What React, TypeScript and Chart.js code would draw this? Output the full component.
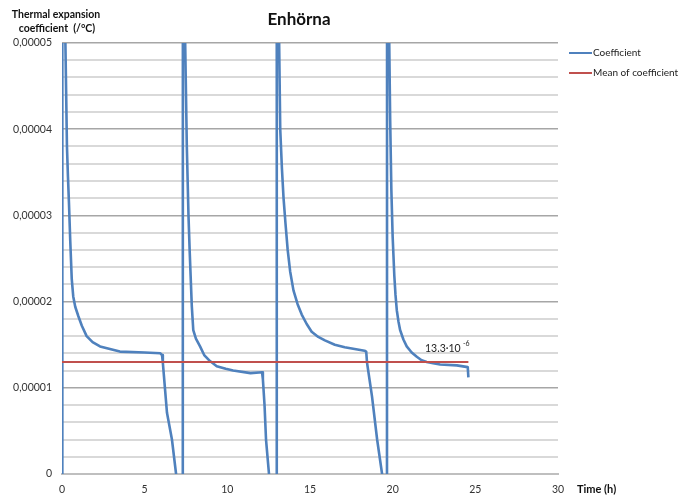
import React, { useEffect, useRef } from "react";
import Chart from "chart.js/auto";

// Time (h) and thermal expansion coefficient (/°C)
const cycle1Time = [0, 0.02, 0.19, 0.3, 0.36, 0.42, 0.5, 0.59, 0.68, 0.8, 0.99, 1.2, 1.49, 1.85, 2.3, 2.9, 3.5, 5.0, 5.95, 6.05, 6.1, 6.35, 6.65, 6.9, 7.0];
const cycle1Coef = [-2e-5, 2e-4, 5.2e-5, 3.8e-5, 3.45e-5, 3.15e-5, 2.7e-5, 2.26e-5, 2.06e-5, 1.94e-5, 1.83e-5, 1.72e-5, 1.6e-5, 1.53e-5, 1.48e-5, 1.45e-5, 1.42e-5, 1.41e-5, 1.40e-5, 1.38e-5, 1.29e-5, 0.71e-5, 0.40e-5, 0, -1e-5];

const cycle2Time = [7.3, 7.32, 7.45, 7.55, 7.65, 7.72, 7.78, 7.85, 7.94, 8.1, 8.35, 8.6, 8.95, 9.36, 9.9, 10.35, 11.4, 12.1, 12.15, 12.25, 12.34, 12.52, 12.6];
const cycle2Coef = [-1e-4, 2e-4, 5.0e-5, 3.8e-5, 3.0e-5, 2.6e-5, 2.3e-5, 1.95e-5, 1.67e-5, 1.57e-5, 1.48e-5, 1.38e-5, 1.31e-5, 1.25e-5, 1.22e-5, 1.20e-5, 1.17e-5, 1.18e-5, 1.10e-5, 0.80e-5, 0.40e-5, 0, -1e-5];

const cycle3Time = [12.97, 12.99, 13.1, 13.2, 13.3, 13.4, 13.52, 13.65, 13.8, 14.0, 14.25, 14.5, 14.8, 15.1, 15.5, 15.9, 16.5, 17.1, 17.7, 18.3, 18.4, 18.45, 18.75, 19.06, 19.36, 19.45];
const cycle3Coef = [-1e-4, 2e-4, 5.5e-5, 4.0e-5, 3.55e-5, 3.2e-5, 2.9e-5, 2.6e-5, 2.35e-5, 2.13e-5, 1.97e-5, 1.85e-5, 1.74e-5, 1.65e-5, 1.59e-5, 1.55e-5, 1.5e-5, 1.47e-5, 1.45e-5, 1.43e-5, 1.42e-5, 1.29e-5, 0.90e-5, 0.40e-5, 0, -1e-5];

const cycle4Time = [19.65, 19.67, 19.78, 19.85, 19.92, 20.0, 20.1, 20.17, 20.25, 20.35, 20.45, 20.65, 20.85, 21.15, 21.46, 21.75, 22.06, 22.45, 22.87, 23.88, 24.54, 24.58];
const cycle4Coef = [-1e-4, 2e-4, 5.2e-5, 4.1e-5, 3.3e-5, 2.75e-5, 2.3e-5, 2.08e-5, 1.9e-5, 1.77e-5, 1.67e-5, 1.56e-5, 1.48e-5, 1.41e-5, 1.36e-5, 1.32e-5, 1.30e-5, 1.285e-5, 1.27e-5, 1.26e-5, 1.24e-5, 1.12e-5];

const meanValue = 1.3e-5;
const meanTime = [0, 24.58];

const seriesLabels = ["Coefficient", "Mean of coefficient"];
const xTicks = [0, 5, 10, 15, 20, 25, 30];
const chartTitle = "Enhörna";
const yTitle = ["Thermal expansion", "coefficient  (/°C)"];
const xTitle = "Time (h)";
const annotationText = "13.3·10";
const annotationExp = "-6";

const BLUE = "#4F81BD";
const RED = "#C0504D";
const FONT = "Lato, 'Open Sans', sans-serif";

const isMajor = (v: number) => {
  const s = v * 1e5;
  return Math.abs(s - Math.round(s)) < 1e-6;
};

export default function App() {
  const ref = useRef<HTMLCanvasElement | null>(null);

  useEffect(() => {
    if (!ref.current) return;
    const times = [...cycle1Time, ...cycle2Time, ...cycle3Time, ...cycle4Time];
    const coefs = [...cycle1Coef, ...cycle2Coef, ...cycle3Coef, ...cycle4Coef];
    const coefData = times.map((t, i) => ({ x: t, y: coefs[i] }));
    const meanData = meanTime.map((t) => ({ x: t, y: meanValue }));

    const textPlugin = {
      id: "texts",
      afterDraw(chart: any) {
        const c = chart.ctx;
        c.save();
        c.fillStyle = "#111";
        c.textBaseline = "middle";
        c.font = `bold 17px ${FONT}`;
        c.textAlign = "center";
        c.fillText(chartTitle, 299, 20);
        c.font = `bold 10.5px ${FONT}`;
        c.fillText(yTitle[0], 56, 15);
        c.fillText(yTitle[1], 57, 29);
        c.textAlign = "left";
        c.font = `bold 11px ${FONT}`;
        c.fillText(xTitle, 577, 489);
        const colors = [BLUE, RED];
        const ys = [53, 73];
        c.font = `10px ${FONT}`;
        seriesLabels.forEach((lab, i) => {
          c.strokeStyle = colors[i];
          c.lineWidth = 2;
          c.beginPath();
          c.moveTo(569, ys[i]);
          c.lineTo(592, ys[i]);
          c.stroke();
          c.fillStyle = "#222";
          c.fillText(lab, 593, ys[i]);
        });
        c.fillStyle = "#222";
        c.font = `10.5px ${FONT}`;
        c.fillText(annotationText, 425, 349);
        c.font = `7px ${FONT}`;
        c.fillText(annotationExp, 463, 344);
        c.restore();
      },
    };

    const chart = new Chart(ref.current, {
      type: "line",
      data: {
        datasets: [
          {
            label: seriesLabels[0],
            data: coefData,
            borderColor: BLUE,
            backgroundColor: BLUE,
            borderWidth: 2.6,
            borderJoinStyle: "round",
            pointRadius: 0,
            tension: 0,
            order: 1,
          },
          {
            label: seriesLabels[1],
            data: meanData,
            borderColor: RED,
            backgroundColor: RED,
            borderWidth: 2,
            pointRadius: 0,
            tension: 0,
            order: 0,
          },
        ],
      },
      options: {
        animation: false,
        responsive: true,
        maintainAspectRatio: false,
        layout: { padding: { top: 43, right: 123, left: 0, bottom: 0 } },
        plugins: {
          legend: { display: false },
          tooltip: { enabled: false },
          title: { display: false },
        },
        scales: {
          x: {
            type: "linear",
            min: 0,
            max: 30,
            afterBuildTicks: (scale: any) => {
              scale.ticks = xTicks.map((v) => ({ value: v }));
            },
            afterFit: (scale: any) => {
              scale.height = 23;
            },
            grid: { display: false, drawTicks: false },
            border: { display: true, color: "#bfbfbf", width: 2 },
            ticks: {
              padding: 9,
              color: "#333",
              font: { family: FONT, size: 10.5 },
              maxRotation: 0,
              autoSkip: false,
            },
          },
          y: {
            type: "linear",
            min: 0,
            max: 0.00005,
            afterFit: (scale: any) => {
              scale.width = 62;
            },
            grid: {
              drawTicks: false,
              color: (ctx: any) => (ctx.tick && isMajor(ctx.tick.value) ? "#a6a6a6" : "#d9d9d9"),
              lineWidth: (ctx: any) => (ctx.tick && isMajor(ctx.tick.value) ? 1.5 : 2),
            },
            border: { display: false },
            ticks: {
              stepSize: 0.000002,
              autoSkip: false,
              padding: 10,
              color: "#333",
              font: { family: FONT, size: 10.5 },
              callback: (v: any) => {
                const n = Number(v);
                if (!isMajor(n)) return "";
                if (Math.abs(n) < 1e-12) return "0";
                return n.toFixed(5).replace(".", ",");
              },
            },
          },
        },
      },
      plugins: [textPlugin],
    });
    return () => chart.destroy();
  }, []);

  return (
    <div style={{ position: "fixed", left: 0, top: 0, width: 681, height: 497, background: "#fff" }}>
      <canvas ref={ref} />
    </div>
  );
}
